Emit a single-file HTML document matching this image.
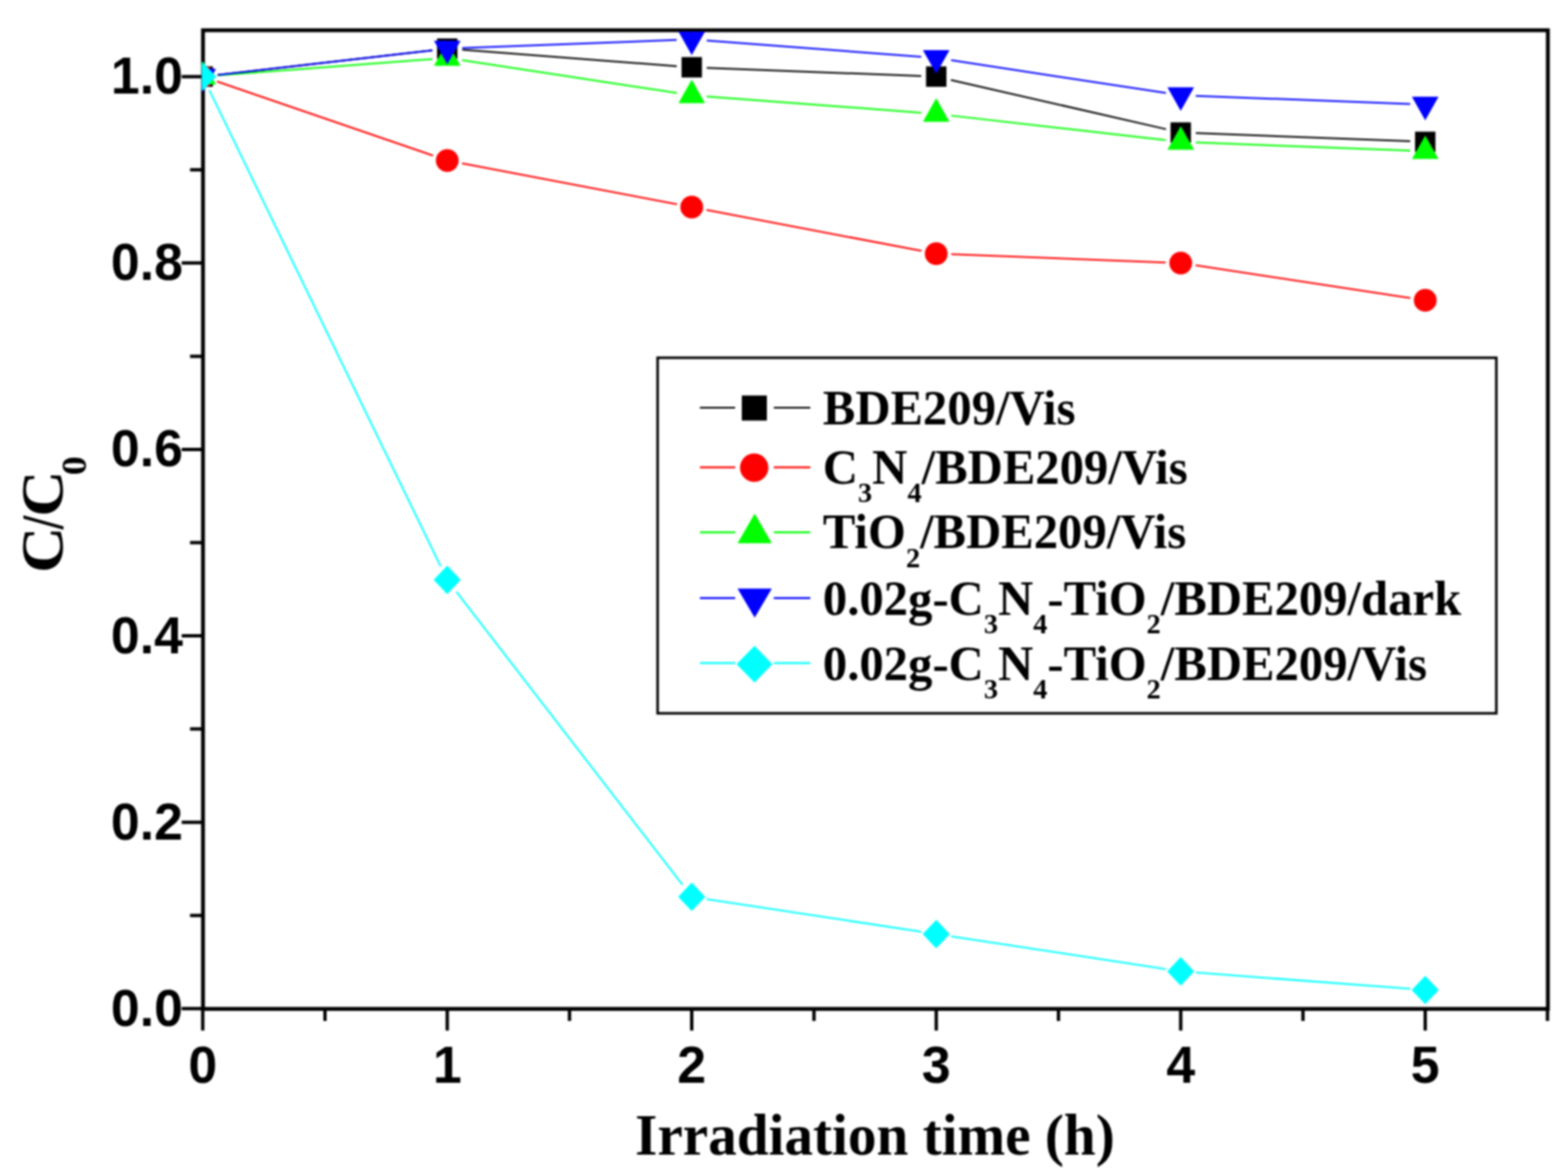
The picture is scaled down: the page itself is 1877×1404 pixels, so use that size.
<!DOCTYPE html>
<html><head><meta charset="utf-8"><title>C/C0 vs Irradiation time</title>
<style>
html,body{margin:0;padding:0;background:#fff;}
svg{display:block;}
.tk{font-family:"Liberation Sans",Arial,sans-serif;font-weight:bold;font-size:62px;fill:#000;}
.ser{font-family:"Liberation Serif","Times New Roman",serif;font-weight:bold;fill:#000;}
</style></head><body>
<svg width="1877" height="1404" viewBox="0 0 1877 1404">
<rect width="1877" height="1404" fill="#fff"/>
<defs><filter id="soft" x="0" y="0" width="1877" height="1404" filterUnits="userSpaceOnUse" color-interpolation-filters="sRGB"><feGaussianBlur stdDeviation="1"/></filter><clipPath id="pc"><rect x="241.5" y="34" width="1614" height="1175"/></clipPath></defs>
<g filter="url(#soft)">
<rect width="1877" height="1404" fill="#fff"/>
<rect x="243.0" y="36.2" width="1609.90" height="1171.40" fill="none" stroke="#000" stroke-width="4.6"/>
<path d="M217.50,1207.30H243.0M227.50,1095.74H243.0M217.50,984.18H243.0M227.50,872.62H243.0M217.50,761.06H243.0M227.50,649.50H243.0M217.50,537.94H243.0M227.50,426.38H243.0M217.50,314.82H243.0M227.50,203.26H243.0M217.50,91.70H243.0M242.70,1207.6V1233.60M389.04,1207.6V1222.10M535.38,1207.6V1233.60M681.72,1207.6V1222.10M828.06,1207.6V1233.60M974.40,1207.6V1222.10M1120.74,1207.6V1233.60M1267.08,1207.6V1222.10M1413.42,1207.6V1233.60M1559.76,1207.6V1222.10M1706.10,1207.6V1233.60M1852.44,1207.6V1222.10" stroke="#000" stroke-width="4" fill="none"/>
<g clip-path="url(#pc)">
<path d="M260.58,89.66L517.50,60.28M553.33,59.60L810.11,79.18M846.05,81.23L1102.75,91.01M1138.29,95.71L1395.87,154.62M1431.41,159.32L1688.11,169.11" stroke="#000000" stroke-width="2.0" fill="none"/>
<path d="M259.73,97.54L518.35,186.26M553.06,195.47L810.38,244.51M845.74,251.25L1103.06,300.29M1138.73,304.35L1395.43,314.13M1431.21,317.53L1688.31,356.73" stroke="#FF0000" stroke-width="2.0" fill="none"/>
<path d="M260.65,90.33L517.43,70.76M553.17,72.10L810.27,111.30M846.01,115.38L1102.79,134.96M1138.62,138.37L1395.54,167.75M1431.41,170.48L1688.11,180.26" stroke="#00FF00" stroke-width="2.0" fill="none"/>
<path d="M260.58,89.66L517.50,60.28M553.37,57.55L810.07,47.76M846.01,48.44L1102.79,68.02M1138.53,72.10L1395.63,111.30M1431.41,114.70L1688.11,124.48" stroke="#0000FF" stroke-width="2.0" fill="none"/>
<path d="M250.57,107.89L527.51,677.93M546.38,708.37L817.06,1059.18M845.85,1076.14L1102.95,1115.34M1138.53,1120.77L1395.63,1159.96M1431.37,1164.04L1688.15,1183.62" stroke="#00FFFF" stroke-width="2.0" fill="none"/>
<rect x="230.50" y="79.50" width="24.40" height="24.40" fill="#000000"/>
<rect x="523.18" y="46.03" width="24.40" height="24.40" fill="#000000"/>
<rect x="815.86" y="68.34" width="24.40" height="24.40" fill="#000000"/>
<rect x="1108.54" y="79.50" width="24.40" height="24.40" fill="#000000"/>
<rect x="1401.22" y="146.44" width="24.40" height="24.40" fill="#000000"/>
<rect x="1693.90" y="157.59" width="24.40" height="24.40" fill="#000000"/>
<ellipse cx="242.70" cy="91.70" rx="13.65" ry="13.65" fill="#FF0000"/>
<ellipse cx="535.38" cy="192.10" rx="13.65" ry="13.65" fill="#FF0000"/>
<ellipse cx="828.06" cy="247.88" rx="13.65" ry="13.65" fill="#FF0000"/>
<ellipse cx="1120.74" cy="303.66" rx="13.65" ry="13.65" fill="#FF0000"/>
<ellipse cx="1413.42" cy="314.82" rx="13.65" ry="13.65" fill="#FF0000"/>
<ellipse cx="1706.10" cy="359.44" rx="13.65" ry="13.65" fill="#FF0000"/>
<polygon points="242.70,72.90 258.60,101.10 226.80,101.10" fill="#00FF00"/>
<polygon points="535.38,50.59 551.28,78.79 519.48,78.79" fill="#00FF00"/>
<polygon points="828.06,95.21 843.96,123.41 812.16,123.41" fill="#00FF00"/>
<polygon points="1120.74,117.52 1136.64,145.72 1104.84,145.72" fill="#00FF00"/>
<polygon points="1413.42,150.99 1429.32,179.19 1397.52,179.19" fill="#00FF00"/>
<polygon points="1706.10,162.15 1722.00,190.35 1690.20,190.35" fill="#00FF00"/>
<polygon points="226.80,82.30 258.60,82.30 242.70,110.50" fill="#0000FF"/>
<polygon points="519.48,48.83 551.28,48.83 535.38,77.03" fill="#0000FF"/>
<polygon points="812.16,37.68 843.96,37.68 828.06,65.88" fill="#0000FF"/>
<polygon points="1104.84,59.99 1136.64,59.99 1120.74,88.19" fill="#0000FF"/>
<polygon points="1397.52,104.61 1429.32,104.61 1413.42,132.81" fill="#0000FF"/>
<polygon points="1690.20,115.77 1722.00,115.77 1706.10,143.97" fill="#0000FF"/>
<polygon points="242.70,74.60 258.90,91.70 242.70,108.80 226.50,91.70" fill="#00FFFF"/>
<polygon points="535.38,677.02 551.58,694.12 535.38,711.22 519.18,694.12" fill="#00FFFF"/>
<polygon points="828.06,1056.33 844.26,1073.43 828.06,1090.53 811.86,1073.43" fill="#00FFFF"/>
<polygon points="1120.74,1100.95 1136.94,1118.05 1120.74,1135.15 1104.54,1118.05" fill="#00FFFF"/>
<polygon points="1413.42,1145.58 1429.62,1162.68 1413.42,1179.78 1397.22,1162.68" fill="#00FFFF"/>
<polygon points="1706.10,1167.89 1722.30,1184.99 1706.10,1202.09 1689.90,1184.99" fill="#00FFFF"/>
</g>
<text class="tk" transform="translate(219,1227.80) scale(1,1.02)" text-anchor="end">0.0</text>
<text class="tk" transform="translate(219,1004.68) scale(1,1.02)" text-anchor="end">0.2</text>
<text class="tk" transform="translate(219,781.56) scale(1,1.02)" text-anchor="end">0.4</text>
<text class="tk" transform="translate(219,558.44) scale(1,1.02)" text-anchor="end">0.6</text>
<text class="tk" transform="translate(219,335.32) scale(1,1.02)" text-anchor="end">0.8</text>
<text class="tk" transform="translate(219,112.20) scale(1,1.02)" text-anchor="end">1.0</text>
<text class="tk" transform="translate(242.70,1296.3) scale(1,1.02)" text-anchor="middle">0</text>
<text class="tk" transform="translate(535.38,1296.3) scale(1,1.02)" text-anchor="middle">1</text>
<text class="tk" transform="translate(828.06,1296.3) scale(1,1.02)" text-anchor="middle">2</text>
<text class="tk" transform="translate(1120.74,1296.3) scale(1,1.02)" text-anchor="middle">3</text>
<text class="tk" transform="translate(1413.42,1296.3) scale(1,1.02)" text-anchor="middle">4</text>
<text class="tk" transform="translate(1706.10,1296.3) scale(1,1.02)" text-anchor="middle">5</text>
<text class="ser" x="760.3" y="1381.5" font-size="69.5" textLength="574.2" lengthAdjust="spacingAndGlyphs">Irradiation time (h)</text>
<text class="ser" font-size="71" transform="translate(75,682) rotate(-90) scale(1.08,1)"><tspan x="-3.47">C</tspan><tspan x="45" textLength="15" lengthAdjust="spacingAndGlyphs">/</tspan><tspan x="58.8">C</tspan><tspan x="104.9" dy="27.6" font-size="42">0</tspan></text>
<rect x="787.2" y="428.2" width="1004" height="425.6" fill="none" stroke="#000" stroke-width="3"/>
<path d="M837.8,488.0H880M926.3,488.0H970" stroke="#000000" stroke-width="2.2" fill="none"/>
<rect x="888.00" y="473.40" width="30.00" height="30.00" fill="#000000"/>
<text class="ser" x="985" y="507.8" font-size="58.3">BDE209/Vis</text>
<path d="M837.8,559.3H880M926.3,559.3H970" stroke="#FF0000" stroke-width="2.2" fill="none"/>
<ellipse cx="902.80" cy="559.70" rx="17.00" ry="17.00" fill="#FF0000"/>
<text class="ser" x="985" y="578.8" font-size="58.3">C<tspan font-size="34" dy="22.4">3</tspan><tspan dy="-22.4">N</tspan><tspan font-size="34" dy="22.4">4</tspan><tspan dy="-22.4">/BDE209/Vis</tspan></text>
<path d="M837.8,637.1H880M926.3,637.1H970" stroke="#00FF00" stroke-width="2.2" fill="none"/>
<polygon points="903.40,614.67 923.90,650.27 882.90,650.27" fill="#00FF00"/>
<text class="ser" x="985" y="656.4" font-size="58.3">TiO<tspan font-size="34" dy="22.4">2</tspan><tspan dy="-22.4">/BDE209/Vis</tspan></text>
<path d="M837.8,715.9H880M926.3,715.9H970" stroke="#0000FF" stroke-width="2.2" fill="none"/>
<polygon points="882.90,704.53 923.90,704.53 903.40,739.23" fill="#0000FF"/>
<text class="ser" x="985" y="735.8" font-size="58.3">0.02g-C<tspan font-size="34" dy="22.4">3</tspan><tspan dy="-22.4">N</tspan><tspan font-size="34" dy="22.4">4</tspan><tspan dy="-22.4">-TiO</tspan><tspan font-size="34" dy="22.4">2</tspan><tspan dy="-22.4">/BDE209/dark</tspan></text>
<path d="M837.8,793.7H880M926.3,793.7H970" stroke="#00FFFF" stroke-width="2.2" fill="none"/>
<polygon points="903.20,772.90 924.70,794.90 903.20,816.90 881.70,794.90" fill="#00FFFF"/>
<text class="ser" x="985" y="813.5" font-size="58.3">0.02g-C<tspan font-size="34" dy="22.4">3</tspan><tspan dy="-22.4">N</tspan><tspan font-size="34" dy="22.4">4</tspan><tspan dy="-22.4">-TiO</tspan><tspan font-size="34" dy="22.4">2</tspan><tspan dy="-22.4">/BDE209/Vis</tspan></text>
</g></svg></body></html>
